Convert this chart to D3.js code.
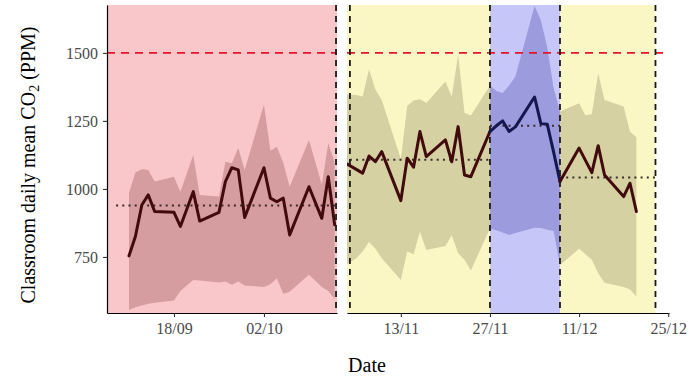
<!DOCTYPE html>
<html><head><meta charset="utf-8">
<script src="https://cdn.jsdelivr.net/npm/d3@7"></script>
<style>
body{margin:0;background:#fff}
svg{display:block}
svg text{font-family:"Liberation Serif","Times New Roman",serif !important}
</style>
</head><body>
<svg id="c" width="691" height="378"></svg>
<script>
// ---------------- DATA ----------------
const leftDates = ["2023-09-11","2023-09-12","2023-09-13","2023-09-14","2023-09-15","2023-09-18","2023-09-19","2023-09-21","2023-09-22","2023-09-25","2023-09-26","2023-09-27","2023-09-28","2023-09-29","2023-10-02","2023-10-03","2023-10-04","2023-10-05","2023-10-06","2023-10-09","2023-10-11","2023-10-12","2023-10-13"];
const leftCO2   = [754,825,941,978,917,914,862,990,882,914,1027,1078,1070,895,1078,966,953,966,831,1008,892,1045,868];
const leftUpper = [985,1060,1072,1070,1027,1045,990,1125,978,972,1100,1094,1150,1070,1310,1140,1155,1096,1008,1180,1015,1168,1096];
const leftLower = [555,565,572,578,582,590,625,665,663,656,660,648,660,645,640,650,672,615,622,685,640,625,595];

const rightDates = ["2023-11-03","2023-11-06","2023-11-07","2023-11-08","2023-11-09","2023-11-10","2023-11-13","2023-11-14","2023-11-15","2023-11-16","2023-11-17","2023-11-20","2023-11-21","2023-11-22","2023-11-23","2023-11-24","2023-11-27","2023-11-28","2023-11-29","2023-11-30","2023-12-01","2023-12-04","2023-12-05","2023-12-06","2023-12-07","2023-12-08","2023-12-11","2023-12-12","2023-12-13","2023-12-14","2023-12-15","2023-12-18","2023-12-19","2023-12-20"];
const rightCO2   = [1112,1072,1058,1121,1100,1137,957,1113,1080,1211,1119,1180,1100,1229,1051,1045,1211,1232,1250,1211,1228,1338,1240,1238,1135,1027,1150,1105,1060,1159,1051,972,1021,917];
const rightUpper = [1350,1345,1340,1440,1365,1327,1110,1305,1325,1330,1316,1395,1340,1493,1280,1270,1380,1360,1353,1380,1413,1672,1620,1520,1370,1285,1315,1270,1275,1425,1327,1303,1210,1190];
const rightLower = [700,745,770,805,780,745,665,770,760,843,776,790,830,764,740,700,855,848,840,831,838,857,856,850,845,720,780,760,740,690,655,640,630,605];

const periodKeys    = ["red","yellow","blue","yellow"];
const periodBgStart = ["2023-09-01","2023-11-01","2023-11-27","2023-12-08"];
const periodBgEnd   = ["2023-10-20","2023-11-27","2023-12-08","2023-12-23"];
const meanStart     = ["2023-09-09","2023-11-05","2023-11-27","2023-12-08"];
const meanEnd       = ["2023-10-13T05:00","2023-11-27","2023-12-08","2023-12-23"];
const meanCO2       = [939,1107,1232,1042];
const boundaryDates = ["2023-10-13T05:00","2023-11-05","2023-11-27","2023-12-08","2023-12-23"];
const thresholdCO2  = 1500;

const yTicks = [750,1000,1250,1500];
const leftTicks  = ["2023-09-18","2023-10-02"];
const rightTicks = ["2023-11-13","2023-11-27","2023-12-11","2023-12-25"];

// ---------------- STYLE / LAYOUT ----------------
const bgColor     = {red:"#F9C7CA", yellow:"#FAF7C5", blue:"#C6C6F9"};
const ribbonColor = {red:"#D69DA0", yellow:"#D6D1A2", blue:"#9B9BDD"};
const lineColor   = {red:"#410A0C", yellow:"#410A0C", blue:"#15174F"};
const plotTop = 5, plotBottom = 313;
const serif = '"Liberation Serif","Times New Roman",serif';
const parse = s => new Date(s.length === 10 ? s + "T00:00:00Z" : s + ":00Z");

const panels = [
  {domain:["2023-09-07T14:00","2023-10-13T08:40"], range:[107,337], dates:leftDates, co2:leftCO2, up:leftUpper, lo:leftLower, ticks:leftTicks},
  {domain:["2023-11-04T13:00","2023-12-25T03:00"], range:[347,669], dates:rightDates, co2:rightCO2, up:rightUpper, lo:rightLower, ticks:rightTicks}
];

const svg = d3.select("#c");
const defs = svg.append("defs");
const y = d3.scaleLinear().domain([544,1676]).range([plotBottom, plotTop]);

function periodOf(d){
  for (let i = 0; i < periodKeys.length; i++){
    if (d >= parse(periodBgStart[i]) && d < parse(periodBgEnd[i])) return i;
  }
  return 0;
}

panels.forEach((p, pi) => {
  const x = d3.scaleUtc().domain(p.domain.map(parse)).range(p.range);
  const d0 = parse(p.domain[0]), d1 = parse(p.domain[1]);
  const rows = p.dates.map((s, i) => ({d: parse(s), v: p.co2[i], up: p.up[i], lo: p.lo[i]}));

  const clipId = "clip" + pi;
  defs.append("clipPath").attr("id", clipId).append("rect")
    .attr("x", p.range[0]).attr("y", plotTop).attr("width", p.range[1]-p.range[0]).attr("height", plotBottom-plotTop);
  const g = svg.append("g").attr("clip-path", `url(#${clipId})`);

  // backgrounds + ribbons by period
  const area = d3.area().x(r => x(r.d)).y0(r => y(r.lo)).y1(r => y(r.up));
  periodKeys.forEach((k, i) => {
    const s = parse(periodBgStart[i]), e = parse(periodBgEnd[i]);
    if (e <= d0 || s >= d1) return;
    const x0 = Math.max(p.range[0], x(s)), x1 = Math.min(p.range[1], x(e));
    g.append("rect").attr("x", x0).attr("y", plotTop).attr("width", x1-x0).attr("height", plotBottom-plotTop)
      .attr("fill", bgColor[k]);
    const cid = `pclip${pi}_${i}`;
    defs.append("clipPath").attr("id", cid).append("rect")
      .attr("x", x0).attr("y", plotTop).attr("width", x1-x0).attr("height", plotBottom-plotTop);
    g.append("path").datum(rows).attr("d", area).attr("fill", ribbonColor[k])
      .attr("clip-path", `url(#${cid})`);
  });

  // threshold line
  g.append("line").attr("x1", p.range[0]).attr("x2", p.range[1])
    .attr("y1", y(thresholdCO2)).attr("y2", y(thresholdCO2))
    .attr("stroke", "#E5132C").attr("stroke-width", 1.8).attr("stroke-dasharray", "8,6");

  // period boundaries
  boundaryDates.map(parse).filter(d => d >= d0 && d <= d1).forEach(d => {
    g.append("line").attr("x1", x(d)).attr("x2", x(d)).attr("y1", plotTop).attr("y2", plotBottom)
      .attr("stroke", "#1a1a1a").attr("stroke-width", 1.8).attr("stroke-dasharray", "6,5");
  });

  // period means
  meanCO2.forEach((m, i) => {
    const s = parse(meanStart[i]), e = parse(meanEnd[i]);
    if (e <= d0 || s >= d1) return;
    g.append("line").attr("x1", x(s)).attr("x2", x(e)).attr("y1", y(m)).attr("y2", y(m))
      .attr("stroke", "#3a2a2a").attr("stroke-width", 2).attr("stroke-dasharray", "2,4.2");
  });

  // main line, coloured by the period of each segment's start
  const line = d3.line().x(r => x(r.d)).y(r => y(r.v));
  let run = [rows[0]], runKey = periodKeys[periodOf(rows[0].d)];
  const flush = () => {
    g.append("path").datum(run).attr("d", line).attr("fill", "none")
      .attr("stroke", lineColor[runKey]).attr("stroke-width", 3)
      .attr("stroke-linejoin", "round").attr("stroke-linecap", "round");
  };
  for (let i = 1; i < rows.length; i++){
    const k = periodKeys[periodOf(rows[i-1].d)];
    if (k !== runKey && lineColor[k] !== lineColor[runKey]){
      flush();
      run = [rows[i-1]];
      runKey = k;
    }
    run.push(rows[i]);
  }
  flush();

  // x axis
  const ax = svg.append("g").attr("transform", `translate(0,${plotBottom})`)
    .call(d3.axisBottom(x).tickValues(p.ticks.map(parse)).tickFormat(d3.utcFormat("%d/%m"))
      .tickSize(4).tickPadding(6).tickSizeOuter(0));
  ax.attr("font-family", null);
  ax.select(".domain").attr("stroke", "#000").attr("stroke-width", 1.2);
  ax.selectAll(".tick line").attr("stroke", "#333").attr("stroke-width", 1.1);
  ax.selectAll(".tick text").style("font-family", serif)
    .attr("font-size", 16).attr("fill", "#4a4a4a");

  if (pi === 0){
    const ay = svg.append("g").attr("transform", `translate(${p.range[0]},0)`)
      .call(d3.axisLeft(y).tickValues(yTicks).tickFormat(d3.format("d"))
        .tickSize(4).tickPadding(5).tickSizeOuter(0));
    ay.attr("font-family", null);
    ay.select(".domain").attr("stroke", "#000").attr("stroke-width", 1.2);
    ay.selectAll(".tick line").attr("stroke", "#333").attr("stroke-width", 1.1);
    ay.selectAll(".tick text").style("font-family", serif)
      .attr("font-size", 16).attr("fill", "#4a4a4a");
  }
});

// axis titles
svg.append("text").attr("x", 367).attr("y", 372).attr("text-anchor", "middle")
  .style("font-family", serif).attr("font-size", 20).attr("fill", "#000").text("Date");

const yt = svg.append("text").attr("transform", "rotate(-90)").attr("x", -165).attr("y", 35)
  .style("font-family", serif).attr("text-anchor", "middle").attr("font-size", 20).attr("fill", "#000");
yt.append("tspan").text("Classroom daily mean CO");
yt.append("tspan").attr("font-size", 14).attr("dy", 4).text("2");
yt.append("tspan").attr("dy", -4).text(" (PPM)");
</script>
</body></html>
